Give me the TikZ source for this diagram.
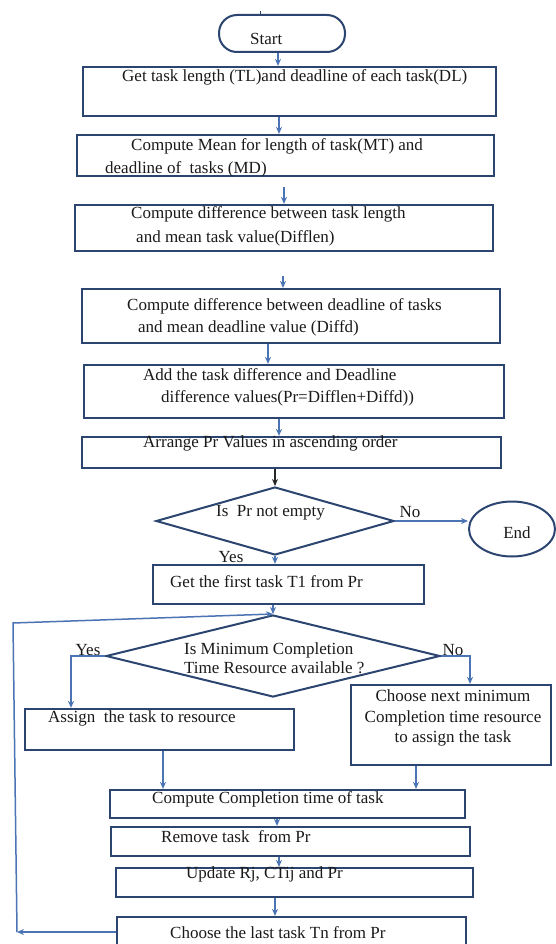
\documentclass[tikz,border=0pt]{standalone}
\usepackage{fontspec}
\setmainfont{Liberation Serif}
\usetikzlibrary{arrows.meta,shapes.geometric,fit}
\definecolor{boxc}{HTML}{2B4570}
\definecolor{arrc}{HTML}{4A74B4}
\definecolor{txtc}{HTML}{1A1A1A}
\begin{document}
\begin{tikzpicture}[x=1pt,y=-1pt,
  box/.style={draw=boxc,line width=2.2pt,rectangle,inner sep=0pt},
  txt/.style={font=\fontsize{17}{20.5}\selectfont,text=txtc,inner sep=0pt,anchor=west},
  arr/.style={draw=arrc,line width=1.5pt,-{Stealth[length=7pt,width=6pt]}},
  dia/.style={draw=boxc,line width=2pt,diamond,inner sep=0pt},
  term/.style={draw=boxc,line width=2pt,inner sep=0pt}
]
\useasboundingbox[fill=white] (0,0) rectangle (556,944);
\clip (0,0) rectangle (556,944);

% start / end
\node[term,rectangle,rounded corners=18pt,fit={(219,15) (345,52)}] (start) {};
\draw[boxc,line width=0.8pt] (260,11) -- (260,15);
\node[txt] (tstart) at (250,39) {Start};

% process boxes
\node[box,fit={(83,67) (496,116)}] (b1) {};
\node[box,fit={(77,135) (494,176)}] (b2) {};
\node[box,fit={(75,205) (493,251)}] (b3) {};
\node[box,fit={(82,289) (500,343)}] (b4) {};
\node[box,fit={(84,365) (504,418)}] (b5) {};
\node[box,fit={(82,437) (501,468)}] (b6) {};
\node[dia,minimum width=238pt,minimum height=68pt] (d1) at (275,521) {};
\node[term,ellipse,minimum width=86pt,minimum height=55pt] (endn) at (512,529) {};
\node[box,fit={(153,565) (424,604)}] (b7) {};
\node[dia,minimum width=334pt,minimum height=82pt] (d2) at (273,656) {};
\node[box,fit={(25,709) (294,750)}] (b8) {};
\node[box,fit={(351,685) (551,765)}] (b9) {};
\node[box,fit={(110,790) (465,818)}] (b10) {};
\node[box,fit={(111,827) (470,856)}] (b11) {};
\node[box,fit={(116,868) (473,897)}] (b12) {};
\node[box,fit={(117,917) (466,947)}] (b13) {};

% texts
\node[txt] (t1) at (122,77) {Get task length (TL)and deadline of each task(DL)};
\node[txt] (t2a) at (131,146) {Compute Mean for length of task(MT) and};
\node[txt] (t2b) at (105,169) {deadline of\ \ tasks (MD)};
\node[txt] (t3a) at (131,214) {Compute difference between task length};
\node[txt] (t3b) at (136,238) {and mean task value(Difflen)};
\node[txt] (t4a) at (127,306) {Compute difference between deadline of tasks};
\node[txt] (t4b) at (138,328) {and mean deadline value (Diffd)};
\node[txt] (t5a) at (143,375) {Add the task difference and Deadline};
\node[txt] (t5b) at (161,398) {difference values(Pr=Difflen+Diffd))};
\node[txt] (t6) at (143,443) {Arrange Pr Values in ascending order};
\node[txt] (td1) at (216,513) {Is\ \ Pr not empty};
\node[txt,anchor=center] (tend) at (517,533) {End};
\node[txt,anchor=center] (lno1) at (410,512) {No};
\node[txt,anchor=center] (lyes1) at (231,557) {Yes};
\node[txt] (t7) at (170,582) {Get the first task T1 from Pr};
\node[txt] (td2a) at (184,650) {Is Minimum Completion};
\node[txt] (td2b) at (184,668) {Time Resource available ?};
\node[txt,anchor=center] (lyes2) at (88,650) {Yes};
\node[txt,anchor=center] (lno2) at (453,650) {No};
\node[txt] (t8) at (48,718) {Assign\ \ the task to resource};
\node[txt,anchor=center,align=center] (t9) at (453,718) {Choose next minimum\\Completion time resource\\to assign the task};
\node[txt] (t10) at (152,799) {Compute Completion time of task};
\node[txt] (t11) at (161,837) {Remove task\ \ from Pr};
\node[txt] (t12) at (186,874) {Update Rj, CTij and Pr};
\node[txt] (t13) at (170,933) {Choose the last task Tn from Pr};

% connectors
\draw[arr] (start.south -| 278,0) -- (b1.north -| 278,0);
\draw[arr] (b1.south -| 279,0) -- (b2.north -| 279,0);
\draw[arr,shorten <=10pt] (b2.south -| 284,0) -- (b3.north -| 284,0);
\draw[arr,shorten <=24pt] (b3.south -| 283,0) -- (b4.north -| 283,0);
\draw[arr] (b4.south -| 268,0) -- (b5.north -| 268,0);
\draw[arr] (b5.south -| 279,0) -- (b6.north -| 279,0);
\draw[arr,draw=black!85] (b6.south -| d1.north) -- (d1.north);
\draw[arr] (d1.east) -- (d1.east -| endn.west);
\draw[arr] (d1.south) -- (d1.south |- b7.north);
\draw[arr] (b7.south -| d2.north) -- (d2.north);
\draw[arr] (d2.west) -| (b8.north -| 71,0);
\draw[arr] (d2.east) -| (b9.north -| 470,0);
\draw[arr] (b8.south -| 163,0) -- (b10.north -| 163,0);
\draw[arr] (b9.south -| 416,0) -- (b10.north -| 416,0);
\draw[arr] (b10.south -| 277,0) -- (b11.north -| 277,0);
\draw[arr] (b11.south -| 279,0) -- (b12.north -| 279,0);
\draw[arr] (b12.south -| 275,0) -- (b13.north -| 275,0);
\coordinate (c1) at (17,932);
\coordinate (c2) at (13,623);
\draw[arr] (b13.west) -- (c1);
\draw[arr] (c1) -- (c2) -- (d2.north);
\end{tikzpicture}
\end{document}
